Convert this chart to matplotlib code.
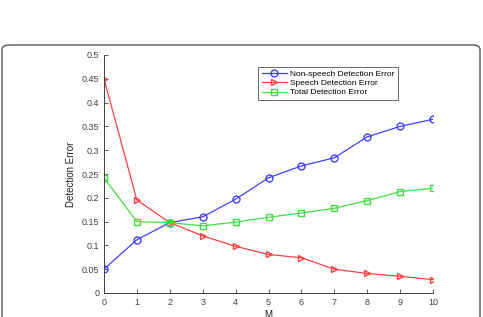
import numpy as np
import matplotlib
matplotlib.use("Agg")
import matplotlib.pyplot as plt
from matplotlib.patches import FancyBboxPatch

# data
M = list(range(11))
nonspeech = [0.050, 0.112, 0.148, 0.160, 0.197, 0.242, 0.267, 0.284, 0.328, 0.350, 0.365]
speech = [0.450, 0.195, 0.148, 0.120, 0.098, 0.081, 0.074, 0.050, 0.041, 0.035, 0.028]
total = [0.242, 0.150, 0.148, 0.141, 0.149, 0.159, 0.168, 0.178, 0.194, 0.213, 0.220]
yticks = [0, 0.05, 0.1, 0.15, 0.2, 0.25, 0.3, 0.35, 0.4, 0.45, 0.5]
ytick_labels = ["0", "0.05", "0.1", "0.15", "0.2", "0.25", "0.3", "0.35", "0.4", "0.45", "0.5"]

plt.rcParams['font.family'] = ['Liberation Sans', 'DejaVu Sans']

fig = plt.figure(figsize=(4.83, 3.17), dpi=100)

# rounded frame around the figure
frame = FancyBboxPatch((2 / 483, -0.05), 478 / 483, (317 - 45) / 317 + 0.05,
                       boxstyle="round,pad=0,rounding_size=0.015",
                       transform=fig.transFigure, facecolor='none',
                       edgecolor='#555555', linewidth=1.0)
fig.patches.append(frame)

ax = fig.add_axes([104 / 483, 24 / 317, 329 / 483, 238 / 317])

ax.plot(M, nonspeech, color='#4040ff', marker='o', markersize=5, markerfacecolor='none',
        linewidth=0.9, label='Non-speech Detection Error')
ax.plot(M, speech, color='#ff4040', marker='>', markersize=5, markerfacecolor='none',
        linewidth=0.9, label='Speech Detection Error')
ax.plot(M, total, color='#40e040', marker='s', markersize=4.5, markerfacecolor='none',
        linewidth=0.9, label='Total Detection Error')

ax.set_xlim(0, 10)
ax.set_ylim(0, 0.5)
ax.set_xticks(M)
ax.set_yticks(yticks)
ax.set_yticklabels(ytick_labels)
ax.tick_params(direction='in', labelsize=6.5, colors='#404040', length=3, width=0.6)
for s in ['top', 'right']:
    ax.spines[s].set_visible(False)
for s in ['left', 'bottom']:
    ax.spines[s].set_color('#404040')
    ax.spines[s].set_linewidth(0.7)

ax.set_ylabel('Detection Error', fontsize=7, color='#202020', labelpad=4)
ax.set_xlabel('M', fontsize=7, color='#202020', labelpad=2)

leg = ax.legend(loc='upper left', bbox_to_anchor=(150 / 329, 1 - 8 / 238), fontsize=6,
                frameon=True, fancybox=False, handlelength=3, borderpad=0.4,
                labelspacing=0.15, handletextpad=0.4)
leg.get_frame().set_edgecolor('#404040')
leg.get_frame().set_linewidth(0.7)

fig.savefig('out.png', dpi=100)
